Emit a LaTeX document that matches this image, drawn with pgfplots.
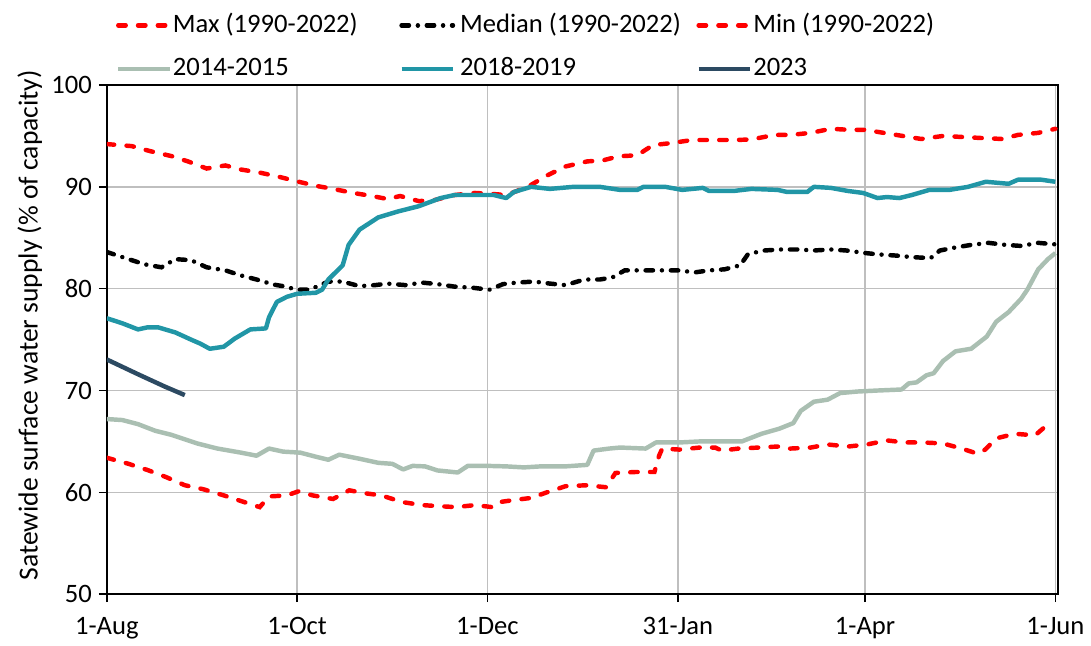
\documentclass[border=0pt]{standalone}
\usepackage{fontspec}
\setmainfont{Carlito}
\usepackage{pgfplots}
\pgfplotsset{compat=1.18}
\definecolor{cA}{RGB}{170,191,178}
\definecolor{cB}{RGB}{33,150,166}
\definecolor{cC}{RGB}{44,74,98}
\definecolor{gridc}{RGB}{191,191,191}
\newcommand{\fs}{\fontsize{13.5}{16}\selectfont}
\begin{document}
\begin{tikzpicture}
\begin{axis}[
  scale only axis,
  width=481bp, height=257.5bp,
  xmin=0, xmax=304.8, ymin=50, ymax=100,
  xtick={0,61,122,183,243,304},
  xticklabels={1-Aug,1-Oct,1-Dec,31-Jan,1-Apr,1-Jun},
  ytick={50,60,70,80,90,100},
  grid=major,
  major grid style={gridc, line width=0.75bp},
  axis line style={black, line width=1bp},
  tick align=outside,
  major tick length=4bp,
  tick style={black, line width=0.75bp},
  xtick pos=bottom, ytick pos=left,
  /pgf/number format/assume math mode=true,
  ticklabel style={font=\fs},
  xticklabel style={yshift=-4bp},
  ylabel={Satewide surface water supply (\% of capacity)},
  every axis y label/.style={at={(axis description cs:-0.081,0.528)}, rotate=90, anchor=center, font=\fontsize{14}{16}\selectfont},
  legend columns=3,
  legend cell align=left,
  legend style={at={(axis description cs:0,1)}, anchor=south west, xshift=4.5bp, yshift=1.5bp,
    draw=none, fill=none, inner sep=0pt, column sep=0.5bp, row sep=9bp, font=\fs,
    nodes={inner sep=0pt, text height=10bp, text depth=3bp}},
  legend image code/.code={\draw[#1] (0bp,0bp) -- (26bp,0bp);},
]
\addplot[red, line width=2.25bp, line cap=round, dash pattern=on 3.75bp off 6.25bp] coordinates {
(0,94.2)(8,94.0)(14,93.5)(21,93.0)(26,92.5)(32,91.8)(38,92.1)(43,91.7)(49,91.4)(55,91.0)(61.5,90.5)(67,90.1)(72.5,89.8)(79,89.4)(85,89.1)(90,88.8)(94,89.1)(100,88.6)(105,88.7)(111.5,89.2)(118,89.4)(123.5,89.3)(128,89.2)(131.5,89.6)(136,90.2)(141,91.1)(147,92.0)(154,92.5)(159,92.6)(164,93.0)(170,93.1)(175,94.1)(181,94.3)(187.5,94.6)(195,94.6)(201,94.6)(206.5,94.65)(214,95.1)(219,95.1)(225.6,95.3)(232,95.7)(238,95.6)(243,95.6)(249,95.3)(255,95.0)(261,94.7)(268,95.0)(274,94.9)(280,94.8)(287,94.7)(292,95.1)(298.5,95.3)(304,95.7)
};
\addlegendentry{\makebox[114bp][l]{Max (1990-2022)}}
\addplot[black, line width=2.25bp, line cap=round, dash pattern=on 3.75bp off 4.5bp on 0.01bp off 4.5bp] coordinates {
(0,83.6)(7,82.9)(12,82.4)(17.5,82.1)(22,82.9)(27,82.8)(32,82.1)(38,81.8)(43,81.3)(48,80.9)(53.5,80.4)(56.5,80.25)(61,79.9)(65,79.9)(71,80.7)(75.5,80.7)(81,80.25)(86,80.35)(90,80.5)(95.7,80.35)(101,80.6)(106,80.45)(111.5,80.2)(117,80.1)(122.6,79.9)(127,80.45)(131.5,80.6)(137,80.7)(142,80.5)(147,80.35)(153,80.9)(158,80.9)(162,81.1)(166,81.8)(172,81.8)(177,81.8)(183,81.8)(188.5,81.6)(193,81.8)(198,81.9)(203,82.3)(205.5,83.4)(210.7,83.75)(216,83.85)(221.5,83.85)(226.6,83.75)(232,83.85)(237,83.75)(243,83.5)(248,83.35)(253,83.25)(258,83.1)(264,83.0)(267,83.75)(272,84.05)(277,84.3)(282.6,84.5)(288,84.3)(293,84.2)(298.5,84.5)(304,84.35)
};
\addlegendentry{\makebox[121bp][l]{\hspace{2bp}Median (1990-2022)}}
\addplot[red, line width=2.25bp, line cap=round, dash pattern=on 3.75bp off 6.25bp] coordinates {
(0,63.4)(7,62.8)(13,62.2)(19,61.5)(25,60.7)(31,60.3)(37.5,59.7)(44,59.05)(49,58.55)(52,59.6)(57.7,59.7)(61.4,60.1)(66,59.7)(72.5,59.35)(77.7,60.2)(83,59.9)(88,59.7)(94.6,59.05)(101,58.75)(106,58.65)(112,58.55)(118,58.75)(123.5,58.55)(126,59.05)(130.5,59.25)(136,59.45)(141,60.0)(147,60.6)(154,60.7)(160,60.5)(163,61.9)(169.5,62.0)(175.5,62.0)(177,63.6)(178,64.3)(183.5,64.2)(190,64.4)(195,64.4)(197,64.1)(202.5,64.3)(209,64.4)(215,64.5)(219,64.3)(225.6,64.4)(231,64.7)(237.6,64.5)(243.6,64.7)(250,65.1)(255.7,64.9)(261.5,64.9)(268,64.8)(274,64.3)(279,63.8)(281.5,64.2)(285,65.3)(291,65.75)(297.5,65.6)(300.7,66.45)(303,66.5)
};
\addlegendentry{Min (1990-2022)}
\addplot[cA, line width=2.25bp, line join=round] coordinates {
(0,67.2)(5,67.1)(10,66.7)(15.5,66.05)(20.7,65.65)(29,64.8)(35.5,64.3)(43,63.9)(48,63.6)(52,64.3)(56.5,64.0)(62,63.9)(67,63.5)(71,63.2)(74.5,63.7)(81,63.3)(87,62.9)(91.5,62.8)(95,62.25)(98,62.6)(102,62.55)(106,62.15)(112.5,61.95)(115.7,62.6)(122,62.6)(128,62.55)(133.7,62.45)(139,62.55)(147,62.55)(154,62.7)(156,64.1)(161,64.3)(164.5,64.4)(172.7,64.3)(176,64.9)(183.5,64.9)(190,65.0)(199,65.0)(203.5,65.0)(209.8,65.75)(215.5,66.25)(220,66.8)(222.4,68.0)(226.6,68.9)(231,69.1)(235,69.75)(240.5,69.9)(247,70.0)(254.7,70.1)(257,70.7)(259.5,70.8)(262.7,71.5)(265,71.7)(268,72.9)(272,73.85)(277,74.1)(282,75.3)(285,76.75)(289,77.7)(293,79.0)(295,79.9)(298.5,81.9)(301.6,82.9)(304,83.5)
};
\addlegendentry{\makebox[114bp][l]{2014-2015}}
\addplot[cB, line width=2.25bp, line join=round] coordinates {
(0,77.1)(5,76.6)(10,76.0)(13,76.2)(16.5,76.2)(22,75.7)(27,75.0)(30,74.6)(33,74.1)(37.5,74.3)(41,75.1)(46,76.0)(51,76.1)(52,77.2)(54.5,78.7)(57.7,79.2)(61,79.5)(67,79.6)(69,79.9)(71,80.9)(75.6,82.3)(77.5,84.3)(81,85.8)(87,87.0)(93.5,87.6)(100,88.1)(107,88.9)(111.5,89.2)(118,89.2)(124,89.2)(128,88.9)(130.5,89.5)(136,90.0)(142,89.8)(149.5,90.0)(158,90.0)(164.5,89.7)(170,89.7)(172,90.0)(179,90.0)(184.4,89.7)(191,89.9)(193,89.6)(201,89.6)(206.6,89.8)(215,89.7)(218,89.5)(224.5,89.5)(226.6,90.0)(232,89.9)(237.4,89.6)(242.4,89.4)(247,88.9)(250,89.0)(254,88.9)(258,89.2)(263.6,89.7)(270,89.7)(276,90.0)(281.7,90.5)(289,90.3)(292,90.7)(299.5,90.7)(304,90.5)
};
\addlegendentry{\makebox[121bp][l]{\hspace{2bp}2018-2019}}
\addplot[cC, line width=2.25bp, line join=round] coordinates {
(0,73.05)(10,71.6)(18.5,70.4)(25,69.55)
};
\addlegendentry{2023}
\end{axis}
\path (current axis.south west) ++(-54bp,-21bp);
\path (current axis.north east) ++(10.5bp,43bp);
\end{tikzpicture}
\end{document}
